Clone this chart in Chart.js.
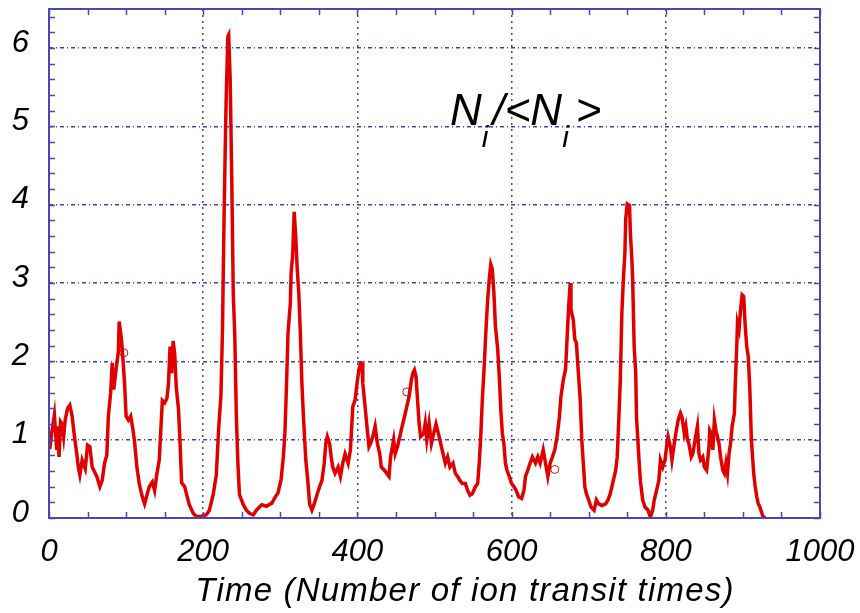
<!DOCTYPE html>
<html>
<head>
<meta charset="utf-8">
<title>Ion density time series</title>
<script src="https://cdn.jsdelivr.net/npm/chart.js@4/dist/chart.umd.min.js"></script>
<style>
  html, body { margin: 0; padding: 0; background: #ffffff; }
  #wrap { width: 860px; height: 613px; }
</style>
</head>
<body>
<div id="wrap"><canvas id="densityChart" width="860" height="613"></canvas></div>
<script>
// time axis (number of ion transit times) and normalised density N_i/<N_i>
const timeValues = [
  1, 3, 7, 10, 11, 13, 15, 17, 19, 21, 24, 27, 30, 33, 36, 38, 40, 43, 47, 50,
  53, 56, 59, 62, 66, 69, 72, 75, 77, 80, 82, 84, 87, 90, 91, 94, 96, 98, 100, 103,
  106, 109, 111, 114, 117, 121, 124, 127, 130, 134, 137, 140, 143, 145, 147, 150, 153, 155, 157, 159,
  161, 163, 165, 168, 170, 172, 176, 179, 182, 187, 191, 197, 204, 208, 213, 217, 220, 223, 225, 227,
  229, 230, 232, 233, 235, 237, 239, 241, 243, 245, 247, 252, 256, 260, 265, 269, 276, 282, 289, 293,
  297, 301, 304, 306, 308, 310, 313, 314, 316, 318, 320, 322, 324, 326, 328, 330, 333, 336, 338, 341,
  344, 348, 351, 354, 357, 359, 361, 364, 366, 368, 371, 375, 378, 381, 384, 388, 391, 394, 397, 400,
  402, 404, 406, 407, 410, 412, 415, 417, 420, 423, 426, 429, 431, 435, 438, 441, 443, 447, 449, 452,
  455, 458, 461, 464, 467, 470, 472, 474, 476, 478, 480, 482, 486, 488, 490, 493, 496, 499, 502, 506,
  509, 512, 514, 517, 520, 524, 527, 530, 533, 536, 540, 543, 546, 549, 553, 556, 558, 560, 562, 564,
  567, 569, 571, 573, 575, 577, 579, 582, 584, 586, 588, 590, 592, 594, 597, 600, 603, 606, 609, 613,
  616, 618, 621, 624, 627, 631, 634, 637, 641, 644, 647, 650, 653, 656, 659, 662, 664, 667, 670, 672,
  674, 676, 677, 680, 682, 684, 686, 689, 691, 693, 695, 697, 700, 703, 707, 710, 713, 717, 722, 725,
  728, 731, 735, 737, 739, 741, 743, 745, 747, 748, 750, 753, 754, 756, 757, 759, 761, 762, 765, 767,
  770, 773, 777, 780, 783, 785, 788, 791, 793, 796, 799, 801, 803, 806, 808, 811, 813, 816, 819, 821,
  824, 826, 828, 830, 833, 835, 838, 841, 843, 845, 848, 850, 853, 856, 857, 859, 861, 863, 865, 867,
  869, 871, 874, 876, 878, 880, 882, 884, 886, 889, 890, 892, 893, 895, 897, 899, 901, 903, 905, 907,
  909, 911, 914, 916, 918, 920, 922, 924, 926, 929
];
const densityValues = [
  0.88, 1.05, 1.32, 0.87, 1.17, 0.78, 1.23, 1.2, 1.04, 1.25, 1.4, 1.44, 1.3, 1.04, 0.82, 0.65, 0.55, 0.74, 0.63, 0.93,
  0.91, 0.65, 0.59, 0.53, 0.4, 0.48, 0.7, 0.8, 1.3, 1.6, 1.98, 1.64, 1.9, 2.13, 2.51, 2.28, 2.02, 1.72, 1.3, 1.25,
  1.3, 1.12, 0.97, 0.65, 0.44, 0.27, 0.18, 0.29, 0.4, 0.46, 0.35, 0.57, 0.74, 1.12, 1.5, 1.47, 1.53, 1.72, 2.19, 1.85,
  2.26, 2.1, 1.68, 1.38, 0.95, 0.45, 0.4, 0.28, 0.17, 0.06, 0.02, 0.02, 0.04, 0.1, 0.3, 0.55, 1.13, 1.57, 2.4, 3.81,
  4.96, 5.43, 6.15, 6.17, 5.6, 4.36, 2.87, 2.32, 1.3, 0.7, 0.3, 0.17, 0.1, 0.06, 0.04, 0.1, 0.17, 0.15, 0.19, 0.26,
  0.32, 0.49, 0.79, 1.09, 1.68, 2.36, 2.74, 3.13, 3.34, 3.91, 3.6, 3.17, 2.87, 2.36, 1.72, 1.3, 0.75, 0.44, 0.18, 0.1,
  0.18, 0.31, 0.4, 0.48, 0.7, 0.95, 1.04, 0.95, 0.78, 0.65, 0.57, 0.65, 0.53, 0.7, 0.82, 0.7, 0.87, 1.42, 1.51, 1.76,
  1.89, 1.98, 1.98, 1.72, 1.42, 1.21, 0.91, 0.95, 1.04, 1.17, 0.95, 0.82, 0.65, 0.61, 0.57, 0.53, 0.78, 1.0, 0.82, 0.91,
  1.04, 1.17, 1.29, 1.42, 1.55, 1.76, 1.85, 1.89, 1.81, 1.51, 1.21, 1.04, 1.08, 1.21, 1.0, 1.21, 0.95, 1.08, 1.2, 1.04,
  0.91, 0.78, 0.7, 0.78, 0.65, 0.7, 0.57, 0.53, 0.48, 0.44, 0.44, 0.35, 0.29, 0.31, 0.4, 0.44, 0.7, 1.04, 1.51, 1.85,
  2.45, 2.79, 3.05, 3.24, 3.18, 2.88, 2.45, 2.15, 1.81, 1.38, 1.08, 0.95, 0.7, 0.61, 0.53, 0.44, 0.4, 0.35, 0.27, 0.25,
  0.35, 0.53, 0.61, 0.7, 0.78, 0.7, 0.78, 0.7, 0.87, 0.7, 0.53, 0.7, 0.78, 0.87, 1.04, 1.29, 1.55, 1.76, 1.9, 2.3,
  2.7, 3.0, 2.66, 2.53, 2.28, 2.24, 1.94, 1.51, 1.0, 0.7, 0.4, 0.31, 0.23, 0.14, 0.1, 0.23, 0.18, 0.16, 0.18, 0.23,
  0.31, 0.44, 0.61, 0.78, 1.25, 1.76, 2.62, 3.05, 3.39, 3.82, 4.01, 3.99, 3.65, 3.3, 3.05, 2.19, 1.85, 1.29, 0.78, 0.48,
  0.23, 0.14, 0.1, 0.01, 0.1, 0.23, 0.35, 0.48, 0.74, 0.65, 0.74, 0.91, 1.04, 0.91, 0.74, 0.95, 1.08, 1.25, 1.34, 1.29,
  1.08, 1.17, 1.0, 0.95, 0.78, 0.82, 1.0, 1.17, 0.82, 0.74, 0.78, 0.65, 0.61, 0.91, 1.12, 1.08, 0.87, 1.25, 1.12, 1.04,
  0.95, 0.78, 0.61, 0.57, 0.7, 0.57, 0.82, 0.95, 1.17, 1.34, 1.68, 2.19, 2.49, 2.41, 2.66, 2.85, 2.83, 2.45, 2.19, 2.06,
  1.64, 1.0, 0.57, 0.4, 0.27, 0.18, 0.14, 0.08, 0.02, 0
];

// the few small open circles sitting on the trace
const markerTimes = [97, 464, 656];
const markerValues = [2.11, 1.61, 0.62];

const xTickValues = [0, 200, 400, 600, 800, 1000];
const yTickValues = [0, 1, 2, 3, 4, 5, 6];
const xMinorStep = 50;
const yMinorStep = 0.2;

const xTitle = 'Time (Number of ion transit times)';

const frameColor = '#4848ae';
const gridColor = '#4040c4';
const lineColor = '#e00000';
const fontFamily = '"Liberation Sans", Arial, sans-serif';

// keep the plot box where the original has it: no auto padding for edge labels
function noEdgePadding(scale) {
  scale.paddingLeft = 0;
  scale.paddingRight = 0;
  scale.paddingTop = 0;
  scale.paddingBottom = 0;
}

// frame, inward tick marks, axis title and the N_i/<N_i> label
const framePlugin = {
  id: 'frame',
  afterDraw(chart) {
    const { ctx, chartArea: a, scales: { x, y } } = chart;
    ctx.save();
    ctx.strokeStyle = frameColor;
    ctx.lineWidth = 2;
    ctx.strokeRect(a.left, a.top, a.right - a.left, a.bottom - a.top);

    ctx.lineWidth = 1.5;
    ctx.beginPath();
    for (let v = 0; v <= x.max + 1e-6; v += xMinorStep) {
      const px = Math.round(x.getPixelForValue(v)) + 0.5;
      ctx.moveTo(px, a.top); ctx.lineTo(px, a.top + 6);
      ctx.moveTo(px, a.bottom); ctx.lineTo(px, a.bottom - 6);
    }
    for (let i = 0; i * yMinorStep <= y.max + 1e-6; i++) {
      const py = Math.round(y.getPixelForValue(i * yMinorStep)) + 0.5;
      ctx.moveTo(a.left, py); ctx.lineTo(a.left + 6, py);
      ctx.moveTo(a.right, py); ctx.lineTo(a.right - 6, py);
    }
    ctx.stroke();

    // x axis title (sits a little right of centre in the original)
    ctx.fillStyle = '#000';
    ctx.font = 'italic 33px ' + fontFamily;
    ctx.letterSpacing = '1.2px';
    ctx.textAlign = 'center';
    ctx.textBaseline = 'alphabetic';
    ctx.fillText(xTitle, 465, 601);
    ctx.letterSpacing = '0px';

    // N_i/<N_i>
    ctx.textAlign = 'left';
    const big = 'italic 44px ' + fontFamily;
    const sub = 'italic 30px ' + fontFamily;
    let tx = 450;
    const base = 125;
    ctx.font = big; ctx.fillText('N', tx, base); tx += ctx.measureText('N').width;
    ctx.font = sub; ctx.fillText('i', tx, base + 22); tx += ctx.measureText('i').width + 4;
    ctx.font = big; ctx.fillText('/<N', tx, base); tx += ctx.measureText('/<N').width;
    ctx.font = sub; ctx.fillText('i', tx, base + 22); tx += ctx.measureText('i').width + 7;
    ctx.font = big; ctx.fillText('>', tx, base);
    ctx.restore();
  }
};

const ctx = document.getElementById('densityChart').getContext('2d');
const densityChart = new Chart(ctx, {
  type: 'scatter',
  data: {
    datasets: [{
      label: 'Ni/<Ni>',
      data: timeValues.map((t, i) => ({ x: t, y: densityValues[i] })),
      showLine: true,
      borderColor: lineColor,
      borderWidth: 3.5,
      pointRadius: 0,
      tension: 0
    }, {
      label: 'markers',
      data: markerTimes.map((t, i) => ({ x: t, y: markerValues[i] })),
      showLine: false,
      pointRadius: 4,
      pointBorderWidth: 1,
      pointBorderColor: '#b02020',
      pointBackgroundColor: 'rgba(0,0,0,0)'
    }]
  },
  options: {
    responsive: false,
    animation: false,
    layout: { padding: { top: 9, right: 40, left: 0, bottom: 0 } },
    plugins: {
      legend: { display: false },
      tooltip: { enabled: false }
    },
    scales: {
      x: {
        type: 'linear',
        min: 0,
        max: 1000,
        afterBuildTicks: (scale) => { scale.ticks = xTickValues.map(v => ({ value: v })); },
        afterFit: (scale) => { scale.height = 95; noEdgePadding(scale); },
        ticks: {
          padding: 16,
          color: '#000',
          maxRotation: 0,
          callback: (value) => String(value),
          font: { family: fontFamily, size: 31, style: 'italic' }
        },
        grid: { color: gridColor, lineWidth: 1.5, drawTicks: false },
        border: { display: false, dash: [2, 4] }
      },
      y: {
        type: 'linear',
        min: 0,
        max: 6.5,
        afterBuildTicks: (scale) => { scale.ticks = yTickValues.map(v => ({ value: v })); },
        afterFit: (scale) => { scale.width = 49; noEdgePadding(scale); },
        ticks: {
          padding: 20,
          labelOffset: -5,
          color: '#000',
          font: { family: fontFamily, size: 31, style: 'italic' }
        },
        grid: { color: gridColor, lineWidth: 1.5, drawTicks: false },
        border: { display: false, dash: [4, 3, 1, 3] }
      }
    }
  },
  plugins: [framePlugin]
});
</script>
</body>
</html>
